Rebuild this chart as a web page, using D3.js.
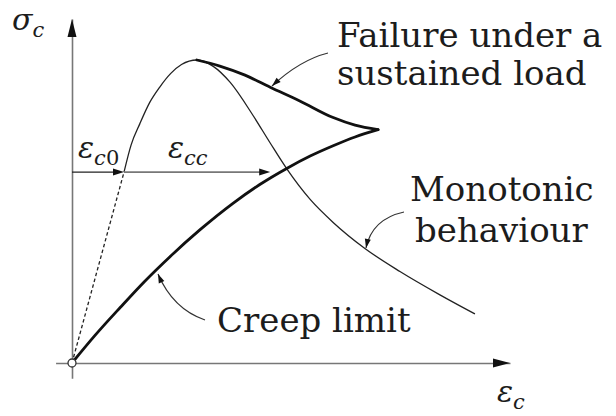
<!DOCTYPE html>
<html>
<head>
<meta charset="utf-8">
<script src="https://cdn.jsdelivr.net/npm/d3@7"></script>
<style>
  html, body { margin: 0; padding: 0; background: #fff; }
  svg { display: block; }
  .word { font-family: "DejaVu Serif", serif; font-size: 34px; fill: #1c1c1c; }
  .math { font-family: "DejaVu Serif", serif; font-style: italic; fill: #1c1c1c; }
</style>
</head>
<body>
<svg id="chart" width="616" height="416"></svg>
<script>
// Monotonic stress–strain response (strain in ‰, stress normalised to the peak)
const monoStrain = [0, 0.95, 1.08, 1.24, 1.42, 1.60, 1.80, 2.00, 2.28, 2.58, 2.89, 3.31, 3.62, 3.93, 4.35, 4.77, 5.35, 5.99, 6.72, 7.36];
const monoStress = [0, 0.63, 0.72, 0.79, 0.86, 0.91, 0.955, 0.985, 1.00, 0.979, 0.926, 0.816, 0.726, 0.639, 0.540, 0.464, 0.378, 0.302, 0.225, 0.162];

// Failure envelope under a sustained load
const failStrain = [2.28, 2.70, 3.16, 3.62, 4.16, 4.77, 5.17, 5.59];
const failStress = [1.00, 0.98, 0.95, 0.91, 0.865, 0.81, 0.785, 0.77];

// Creep limit
const creepStrain = [0, 0.42, 0.88, 1.33, 1.79, 2.34, 2.94, 3.43, 3.93, 4.35, 4.77, 5.17, 5.59];
const creepStress = [0, 0.091, 0.183, 0.270, 0.351, 0.440, 0.527, 0.589, 0.643, 0.683, 0.717, 0.746, 0.77];

// Sustained stress level with its instantaneous and creep strains
const sustainedStress = 0.63;
const strainInstant = 0.95;   // ε_c0
const strainCreepEnd = 3.62;  // end of ε_cc

const svg = d3.select("#chart");

const x = d3.scaleLinear().domain([0, 8]).range([72, 510]);
const y = d3.scaleLinear().domain([0, 1]).range([363, 60]);

const pts = (xs, ys) => xs.map((v, i) => [v, ys[i]]);
const line = d3.line().x(d => x(d[0])).y(d => y(d[1])).curve(d3.curveMonotoneX);
const straight = d3.line().x(d => x(d[0])).y(d => y(d[1]));

function arrowHead(g, tip, from, len, halfW) {
  const dx = tip[0] - from[0], dy = tip[1] - from[1];
  const L = Math.hypot(dx, dy), ux = dx / L, uy = dy / L;
  const bx = tip[0] - ux * len, by = tip[1] - uy * len;
  g.append("path")
    .attr("d", `M${tip[0]},${tip[1]}L${bx - uy * halfW},${by + ux * halfW}L${bx + uy * halfW},${by - ux * halfW}Z`)
    .attr("fill", "#111");
}

// Axes (no ticks, arrowed)
const xAxisScale = x.copy().domain([-0.3, 8]).range([x(-0.3), x(8)]);
const yAxisScale = y.copy().domain([-0.05, 1.135]).range([y(-0.05), y(1.135)]);
const axisG = svg.append("g");
axisG.append("g").attr("transform", `translate(0,${y(0)})`)
  .call(d3.axisBottom(xAxisScale).tickValues([]).tickSizeOuter(0))
  .select(".domain").attr("stroke", "#777").attr("stroke-width", 1.6);
axisG.append("g").attr("transform", `translate(${x(0)},0)`)
  .call(d3.axisLeft(yAxisScale).tickValues([]).tickSizeOuter(0))
  .select(".domain").attr("stroke", "#777").attr("stroke-width", 1.6);
arrowHead(axisG, [x(8), y(0)], [x(0), y(0)], 17, 4.5);
arrowHead(axisG, [x(0), yAxisScale(1.135)], [x(0), y(0)], 18, 4.5);

// Monotonic curve: dashed initial branch, solid beyond ε_c0
const mono = pts(monoStrain, monoStress);
svg.append("path").attr("d", straight(mono.slice(0, 2)))
  .attr("fill", "none").attr("stroke", "#222").attr("stroke-width", 1.3)
  .attr("stroke-dasharray", "3.5,2.5");
svg.append("path").attr("d", line(mono.slice(1)))
  .attr("fill", "none").attr("stroke", "#222").attr("stroke-width", 1.3);

// Sustained-load strain arrows
const sy = y(sustainedStress);
svg.append("line").attr("x1", x(0)).attr("x2", x(strainInstant) - 8).attr("y1", sy).attr("y2", sy)
  .attr("stroke", "#222").attr("stroke-width", 1.3);
arrowHead(svg, [x(strainInstant), sy], [x(0), sy], 11, 3.5);
svg.append("line").attr("x1", x(strainInstant)).attr("x2", x(strainCreepEnd) - 8).attr("y1", sy).attr("y2", sy)
  .attr("stroke", "#777").attr("stroke-width", 1.6);
arrowHead(svg, [x(strainCreepEnd), sy], [x(strainInstant), sy], 11, 3.5);

// Failure envelope and creep limit (bold)
svg.append("path").attr("d", line(pts(failStrain, failStress)))
  .attr("fill", "none").attr("stroke", "#111").attr("stroke-width", 2.8).attr("stroke-linecap", "round");
svg.append("path").attr("d", line(pts(creepStrain, creepStress)))
  .attr("fill", "none").attr("stroke", "#111").attr("stroke-width", 2.8).attr("stroke-linecap", "round");

// Origin marker
svg.append("circle").attr("cx", x(0)).attr("cy", y(0)).attr("r", 4)
  .attr("fill", "#fff").attr("stroke", "#333").attr("stroke-width", 1.3);

// Leader arrows: start near the label, curve to a point on the curve
const leaders = [
  { from: [328, 53], ctrl: [300, 60], to: [272, 86] },
  { from: [404, 212], ctrl: [372, 219], to: [366, 248] },
  { from: [205, 320], ctrl: [173, 309], to: [158, 274] }
];
leaders.forEach(l => {
  svg.append("path")
    .attr("d", `M${l.from[0]},${l.from[1]}Q${l.ctrl[0]},${l.ctrl[1]} ${l.to[0]},${l.to[1]}`)
    .attr("fill", "none").attr("stroke", "#333").attr("stroke-width", 1.2);
  arrowHead(svg, l.to, l.ctrl, 9, 3);
});

// Text labels
const words = [
  { t: "Failure under a", x: 337, y: 47 },
  { t: "sustained load", x: 337, y: 85 },
  { t: "Monotonic", x: 410, y: 201 },
  { t: "behaviour", x: 415, y: 242 },
  { t: "Creep limit", x: 217, y: 332 }
];
words.forEach(w => svg.append("text").attr("class", "word").attr("x", w.x).attr("y", w.y).text(w.t));

function mathLabel(px, py, main, sub, subUpright) {
  const t = svg.append("text").attr("class", "math").attr("x", px).attr("y", py).attr("font-size", 30);
  t.append("tspan").text(main);
  t.append("tspan").attr("font-size", 21).attr("dy", 7).text(sub);
  if (subUpright) t.append("tspan").attr("font-size", 21).attr("font-style", "normal").text(subUpright);
}
mathLabel(12, 30, "σ", "c");
mathLabel(78, 158, "ε", "c", "0");
mathLabel(168, 158, "ε", "cc");
mathLabel(497, 402, "ε", "c");
</script>
</body>
</html>
